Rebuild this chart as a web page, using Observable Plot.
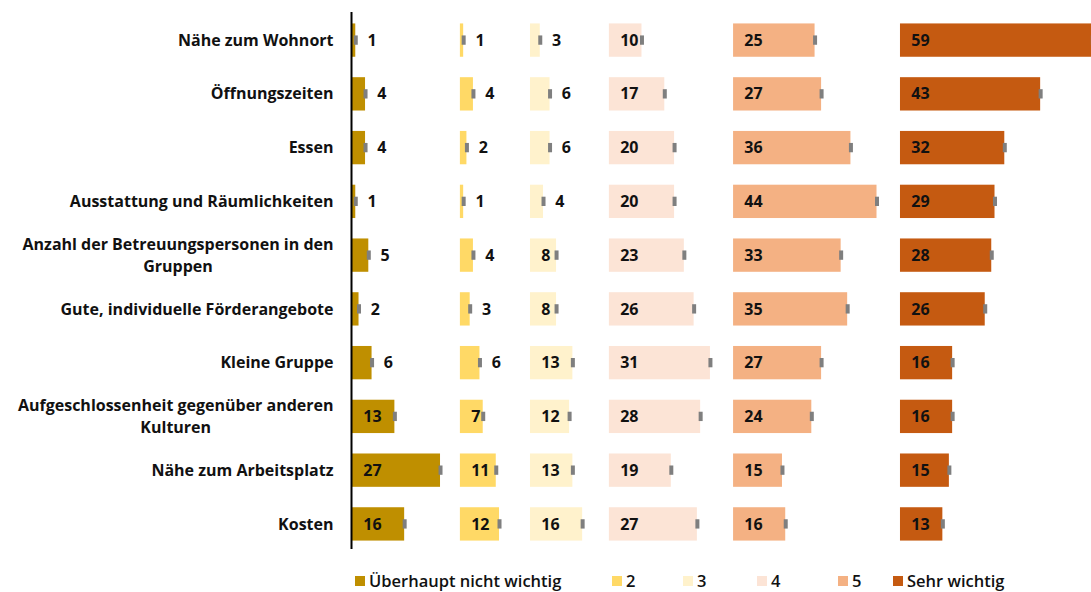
<!DOCTYPE html>
<html>
<head>
<meta charset="utf-8">
<script src="https://cdn.jsdelivr.net/npm/d3@7"></script>
<script src="https://cdn.jsdelivr.net/npm/@observablehq/plot@0.6"></script>
<style>
  body { margin: 0; background: #fff; font-family: "Open Sans", sans-serif; }
  #wrap { position: relative; width: 1091px; height: 592px; overflow: hidden; }
  #legend { position: absolute; left: 0; top: 569px; width: 1091px; height: 24px; }
  .li { position: absolute; top: 0; font-size: 16.5px; font-weight: 600; color: #111; white-space: nowrap; }
  .sw { position: absolute; top: 7px; width: 10px; height: 10px; }
</style>
</head>
<body>
<div id="wrap"><div id="chart"></div><div id="legend"></div></div>
<script>
const categories = [
  "Nähe zum Wohnort",
  "Öffnungszeiten",
  "Essen",
  "Ausstattung und Räumlichkeiten",
  "Anzahl der Betreuungspersonen in den Gruppen",
  "Gute, individuelle Förderangebote",
  "Kleine Gruppe",
  "Aufgeschlossenheit gegenüber anderen Kulturen",
  "Nähe zum Arbeitsplatz",
  "Kosten"
];
const seriesNames = ["Überhaupt nicht wichtig", "2", "3", "4", "5", "Sehr wichtig"];
const v1 = [1, 4, 4, 1, 5, 2, 6, 13, 27, 16];
const v2 = [1, 4, 2, 1, 4, 3, 6, 7, 11, 12];
const v3 = [3, 6, 6, 4, 8, 8, 13, 12, 13, 16];
const v4 = [10, 17, 20, 20, 23, 26, 31, 28, 19, 27];
const v5 = [25, 27, 36, 44, 33, 35, 27, 24, 15, 16];
const v6 = [59, 43, 32, 29, 28, 26, 16, 16, 15, 13];
const colors = ["#BF8F00", "#FFD966", "#FFF2CC", "#FCE4D6", "#F4B183", "#C55A11"];

// layout: where each panel starts on the shared percent axis
const panelStart = [0, 33.1, 54.6, 78.8, 116.9, 168.1];

const seriesValues = [v1, v2, v3, v4, v5, v6];
const rows = [];
seriesValues.forEach((vals, s) => {
  vals.forEach((v, i) => {
    rows.push({cat: categories[i], series: seriesNames[s], s, value: v, start: panelStart[s], end: panelStart[s] + v});
  });
});

const FONT = '"Open Sans", sans-serif';
const labelFontSize = 16;
const canvas = document.createElement("canvas");
const ctx = canvas.getContext("2d");
ctx.font = `700 ${labelFontSize}px ${FONT}`;
function wrap(text, maxW) {
  const words = text.split(" ");
  const lines = [];
  let cur = "";
  for (const w of words) {
    const t = cur ? cur + " " + w : w;
    if (ctx.measureText(t).width > maxW && cur) { lines.push(cur); cur = w; }
    else cur = t;
  }
  lines.push(cur);
  return lines;
}

const labelMarks = [];
const DX = -19;
categories.forEach(c => {
  const lines = wrap(c, 335);
  if (lines.length === 1) {
    labelMarks.push(Plot.text([c], {x: () => 0, y: d => d, text: d => d, textAnchor: "end", dx: DX,
      fontSize: labelFontSize, fontWeight: 700, fill: "#111"}));
  } else {
    const w1 = ctx.measureText(lines[0]).width;
    labelMarks.push(Plot.text([c], {x: () => 0, y: d => d, text: () => lines[0], textAnchor: "end", dx: DX, dy: -11,
      fontSize: labelFontSize, fontWeight: 700, fill: "#111"}));
    labelMarks.push(Plot.text([c], {x: () => 0, y: d => d, text: () => lines[1], textAnchor: "middle", dx: DX - w1 / 2, dy: 11,
      fontSize: labelFontSize, fontWeight: 700, fill: "#111"}));
  }
});

const chart = Plot.plot({
  width: 1091,
  height: 562,
  marginLeft: 352,
  marginRight: 0,
  marginTop: 3,
  marginBottom: 1,
  style: {fontFamily: FONT, background: "#fff"},
  x: {domain: [0, 226.7], axis: null},
  y: {domain: categories, padding: 0.38, round: false, axis: null},
  color: {domain: seriesNames, range: colors},
  marks: [
    Plot.barX(rows, {x1: "start", x2: "end", y: "cat", fill: "series"}),
    Plot.tickX(rows, {x: "end", y: "cat", stroke: "#7F7F7F", strokeWidth: 4, insetTop: 12, insetBottom: 12}),
    Plot.text(rows, {
      x: d => d.value >= 7 ? d.start + 3.3 : d.end + 3.6,
      y: "cat", text: d => String(d.value), textAnchor: "start",
      fontSize: 16, fontWeight: 700, fill: "#111"
    }),
    Plot.ruleX([0], {stroke: "#000", strokeWidth: 2, dx: -1, insetTop: 9, insetBottom: 12}),
    ...labelMarks
  ]
});
document.getElementById("chart").appendChild(chart);

// legend
const legendPos = [355, 612, 683, 757, 838, 893];
const legend = document.getElementById("legend");
seriesNames.forEach((name, i) => {
  const sw = document.createElement("div");
  sw.className = "sw";
  sw.style.left = legendPos[i] + "px";
  sw.style.background = colors[i];
  legend.appendChild(sw);
  const t = document.createElement("div");
  t.className = "li";
  t.style.left = (legendPos[i] + 14) + "px";
  t.textContent = name;
  legend.appendChild(t);
});
</script>
</body>
</html>
